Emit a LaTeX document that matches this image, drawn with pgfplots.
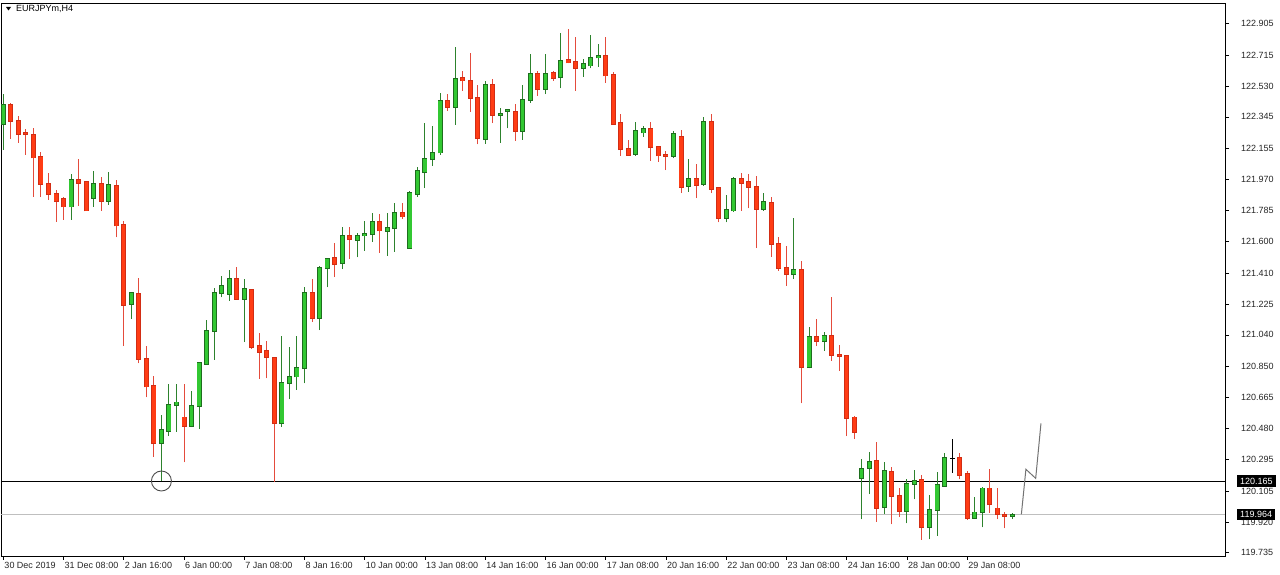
\documentclass[border=0pt]{standalone}
\usepackage{fontspec}
\setmainfont{Liberation Sans}
\usepackage{pgfplots}
\usepackage{pgfplotstable}
\pgfplotsset{compat=1.18}
\definecolor{gfill}{RGB}{50,200,50}
\definecolor{gline}{RGB}{30,110,30}
\definecolor{gwick}{RGB}{45,130,45}
\definecolor{rfill}{RGB}{255,60,20}
\definecolor{rline}{RGB}{210,45,20}
\definecolor{rwick}{RGB}{228,75,60}

\pgfplotstableread{
x o h l c
0 122.301 122.482 122.147 122.417
9 121.808 122.003 121.728 121.967
12 121.858 122.021 121.808 121.942
14 121.842 122.017 121.818 121.936
17 121.223 121.293 121.135 121.293
21 120.391 120.560 120.165 120.470
22 120.466 120.746 120.434 120.620
23 120.618 120.746 120.460 120.636
25 120.496 120.706 120.487 120.616
26 120.616 120.873 120.475 120.870
27 120.866 121.129 120.866 121.065
28 121.063 121.319 120.890 121.293
29 121.289 121.393 121.265 121.333
30 121.285 121.428 121.245 121.373
32 121.255 121.373 120.996 121.313
37 120.510 121.033 120.490 120.750
38 120.750 120.966 120.654 120.790
39 120.790 121.033 120.710 120.840
40 120.840 121.325 120.750 121.293
42 121.139 121.452 121.069 121.442
43 121.442 121.499 121.325 121.493
45 121.469 121.684 121.433 121.634
47 121.608 121.648 121.504 121.634
48 121.634 121.724 121.544 121.642
49 121.642 121.772 121.598 121.714
51 121.662 121.772 121.514 121.678
52 121.678 121.828 121.538 121.772
54 121.562 121.902 121.558 121.888
55 121.882 122.047 121.867 122.021
56 122.017 122.307 121.918 122.091
57 122.091 122.293 122.053 122.131
58 122.131 122.487 122.117 122.440
60 122.406 122.762 122.297 122.570
64 122.211 122.562 122.183 122.536
66 122.355 122.397 122.191 122.361
67 122.382 122.391 122.277 122.387
69 122.261 122.536 122.207 122.447
70 122.447 122.720 122.430 122.600
72 122.512 122.720 122.482 122.600
74 122.582 122.846 122.516 122.680
77 122.636 122.690 122.586 122.660
78 122.652 122.836 122.636 122.700
79 122.700 122.780 122.646 122.712
84 122.123 122.313 122.113 122.261
85 122.251 122.291 122.227 122.271
89 122.111 122.263 122.097 122.243
91 121.933 122.093 121.897 121.973
93 121.943 122.346 121.933 122.313
96 121.738 121.878 121.714 121.788
97 121.784 121.984 121.778 121.973
101 121.792 121.888 121.782 121.837
105 121.403 121.738 121.373 121.428
107 120.846 121.089 120.840 121.029
109 121.003 121.059 120.945 121.033
114 120.181 120.295 119.936 120.237
115 120.241 120.340 120.087 120.281
117 120.008 120.281 119.967 120.227
120 119.985 120.175 119.912 120.147
121 120.147 120.231 120.055 120.167
123 119.888 120.081 119.816 119.991
124 119.991 120.217 119.836 120.141
125 120.135 120.334 120.131 120.301
129 119.945 120.067 119.937 119.977
130 119.977 120.131 119.888 120.121
134 119.957 119.972 119.937 119.964
}\bull

\pgfplotstableread{
x o h l c
1 122.417 122.430 122.213 122.322
2 122.322 122.351 122.189 122.243
3 122.247 122.273 122.117 122.241
4 122.237 122.279 121.867 122.101
5 122.103 122.137 121.864 121.943
6 121.943 122.009 121.848 121.882
7 121.884 121.908 121.718 121.843
8 121.852 121.864 121.728 121.808
10 121.967 122.093 121.812 121.951
11 121.954 121.963 121.784 121.784
13 121.942 121.984 121.784 121.842
15 121.933 121.967 121.624 121.694
16 121.698 121.722 120.973 121.219
18 121.285 121.379 120.870 120.896
19 120.896 120.973 120.666 120.730
20 120.734 120.796 120.311 120.391
24 120.546 120.746 120.277 120.496
31 121.373 121.448 121.255 121.255
33 121.309 121.309 120.955 120.966
34 120.973 121.053 120.776 120.939
35 120.945 121.005 120.780 120.906
36 120.900 120.900 120.162 120.510
41 121.289 121.375 121.119 121.139
44 121.499 121.592 121.385 121.463
46 121.634 121.684 121.493 121.612
50 121.714 121.764 121.532 121.664
53 121.772 121.832 121.734 121.748
59 122.440 122.481 122.382 122.406
61 122.576 122.622 122.502 122.562
62 122.562 122.726 122.376 122.460
63 122.457 122.536 122.181 122.217
65 122.536 122.570 122.307 122.357
68 122.373 122.423 122.203 122.261
71 122.600 122.622 122.472 122.512
73 122.606 122.622 122.560 122.576
75 122.686 122.872 122.666 122.670
76 122.672 122.825 122.502 122.636
80 122.712 122.822 122.550 122.592
81 122.596 122.612 122.297 122.301
82 122.307 122.363 122.113 122.151
83 122.153 122.207 122.113 122.117
86 122.271 122.313 122.083 122.163
87 122.167 122.171 122.077 122.113
88 122.117 122.143 122.027 122.111
90 122.227 122.267 121.888 121.927
92 121.973 122.063 121.858 121.937
94 122.313 122.363 121.888 121.914
95 121.921 121.921 121.714 121.738
98 121.973 122.008 121.784 121.951
99 121.957 122.002 121.798 121.927
100 121.927 121.991 121.560 121.794
102 121.832 121.867 121.508 121.584
103 121.584 121.628 121.424 121.442
104 121.442 121.574 121.333 121.403
106 121.428 121.484 120.630 120.846
108 121.029 121.133 120.973 121.003
110 121.033 121.265 120.885 120.919
111 120.918 120.979 120.826 120.914
112 120.915 120.915 120.434 120.544
113 120.546 120.554 120.415 120.460
116 120.285 120.400 119.921 120.005
118 120.221 120.247 119.906 120.075
119 120.075 120.125 119.951 119.985
122 120.171 120.201 119.812 119.888
127 120.301 120.331 120.175 120.201
128 120.205 120.225 119.932 119.942
131 120.121 120.235 119.975 120.025
132 120.001 120.121 119.936 119.967
133 119.961 119.977 119.882 119.955
}\bear

\pgfplotsset{
  candle/.style={draw=none, mark=none, forget plot,
    error bars/.cd, y dir=plus, y explicit, error mark=none},
}

\begin{document}
\begin{tikzpicture}
\useasboundingbox (0pt,0pt) rectangle (1280pt,575pt);
\fill[white] (0pt,0pt) rectangle (1280pt,575pt);
\begin{axis}[
  at={(1pt,19pt)}, anchor=south west,
  scale only axis, width=1224pt, height=553pt,
  xmin=-0.305, xmax=162.24, ymin=119.716, ymax=123.027,
  axis line style={black, line width=0.8pt},
  tick align=outside, major tick length=4pt,
  major tick style={black, line width=0.7pt},
  xtick pos=bottom, ytick pos=right,
  yticklabel pos=right,
  xtick={0,8,...,128},
  xticklabels={30 Dec 2019, 31 Dec 08:00, 2 Jan 16:00, 6 Jan 00:00, 7 Jan 08:00, 8 Jan 16:00, 10 Jan 00:00, 13 Jan 08:00, 14 Jan 16:00, 16 Jan 00:00, 17 Jan 08:00, 20 Jan 16:00, 22 Jan 00:00, 23 Jan 08:00, 24 Jan 16:00, 28 Jan 00:00, 29 Jan 08:00},
  ytick={122.905,122.715,122.530,122.345,122.155,121.970,121.785,121.600,121.410,121.225,121.040,120.850,120.665,120.480,120.295,120.105,119.920,119.735},
  yticklabels={122.905,122.715,122.530,122.345,122.155,121.970,121.785,121.600,121.410,121.225,121.040,120.850,120.665,120.480,120.295,120.105,119.920,119.735},
  every tick label/.append style={font=\fontsize{9}{10}\selectfont, text=black!85},
  xticklabel style={anchor=north west, inner sep=0pt, xshift=1pt, yshift=-2pt},
  yticklabel style={anchor=west, inner sep=0pt, xshift=12pt},
]
% horizontal lines
\addplot[black!25, line width=0.8pt, forget plot] coordinates {(-0.305,119.964) (162.24,119.964)};
\addplot[black, line width=0.9pt, forget plot] coordinates {(-0.305,120.165) (162.24,120.165)};

% bullish wicks, outlines, fills
\addplot[candle, error bar style={draw=gwick, line width=1pt}]
  table[x=x, y=l, y error plus expr=\thisrow{h}-\thisrow{l}] {\bull};
\addplot[candle, error bar style={draw=gline, line width=5pt}]
  table[x=x, y expr=\thisrow{o}-0.005, y error plus expr=\thisrow{c}-\thisrow{o}+0.010] {\bull};
\addplot[candle, error bar style={draw=gfill, line width=3.2pt}]
  table[x=x, y=o, y error plus expr=\thisrow{c}-\thisrow{o}] {\bull};

% bearish wicks, outlines, fills
\addplot[candle, error bar style={draw=rwick, line width=1pt}]
  table[x=x, y=l, y error plus expr=\thisrow{h}-\thisrow{l}] {\bear};
\addplot[candle, error bar style={draw=rline, line width=5pt}]
  table[x=x, y expr=\thisrow{c}-0.005, y error plus expr=\thisrow{o}-\thisrow{c}+0.010] {\bear};
\addplot[candle, error bar style={draw=rfill, line width=3.2pt}]
  table[x=x, y=c, y error plus expr=\thisrow{o}-\thisrow{c}] {\bear};

% neutral doji
\addplot[candle, error bar style={draw=black, line width=1pt}]
  coordinates {(126,120.215) += (0,0.202) -= (0,0)};
\addplot[draw=none, mark=none, forget plot, error bars/.cd, x dir=both, x explicit, error mark=none,
  error bar style={draw=black, line width=1pt}]
  coordinates {(126,120.301) +- (0.33,0)};

% projection zigzag
\addplot[black!55, line width=1pt, forget plot] coordinates {(135.2,119.966) (135.8,120.235) (137.1,120.181) (137.8,120.510)};

% circle around the low
\draw[black!70, line width=0.9pt] (axis cs:21,120.165) circle[radius=10pt];

\coordinate (b1) at (axis cs:162.24,120.165);
\coordinate (b2) at (axis cs:162.24,119.964);
\end{axis}
\node[fill=black, text=white, anchor=west, inner xsep=3pt, inner ysep=2.6pt, font=\fontsize{9}{10}\selectfont] at ([xshift=12pt]b1) {120.165};
\node[fill=black, text=white, anchor=west, inner xsep=3pt, inner ysep=2.6pt, font=\fontsize{9}{10}\selectfont] at ([xshift=12pt]b2) {119.964};
% title
\fill[black] (6pt,568pt) -- (11pt,568pt) -- (8.5pt,564.5pt) -- cycle;
\node[anchor=west, inner sep=0pt, font=\fontsize{9}{10}\selectfont] at (16pt,566pt) {EURJPYm,H4};
\end{tikzpicture}
\end{document}
